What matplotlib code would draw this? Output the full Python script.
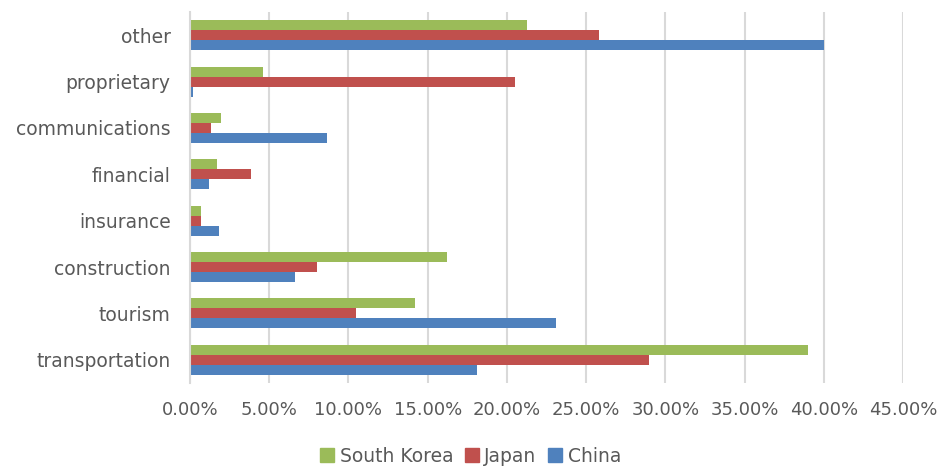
import numpy as np
import matplotlib.pyplot as plt
from matplotlib.ticker import FuncFormatter
from matplotlib.patches import Patch

# categories listed bottom to top
categories = ["transportation", "tourism", "construction", "insurance",
              "financial", "communications", "proprietary", "other"]
south_korea = [0.390, 0.142, 0.162, 0.0067, 0.0168, 0.0193, 0.0458, 0.213]
japan = [0.290, 0.105, 0.080, 0.0067, 0.0382, 0.013, 0.205, 0.258]
china = [0.181, 0.2307, 0.066, 0.018, 0.0117, 0.0864, 0.0016, 0.400]
xticks = np.arange(0, 0.451, 0.05)

green = "#9BBB59"
red = "#C0504D"
blue = "#4F81BD"

fig = plt.figure(figsize=(9.41, 4.68), dpi=100)
ax = fig.add_axes([190/941, 1-383/468, (903-190)/941, (383-12)/468])

y = np.arange(len(categories))
h = 0.215
ax.barh(y + h, south_korea, h, color=green, label="South Korea")
ax.barh(y, japan, h, color=red, label="Japan")
ax.barh(y - h, china, h, color=blue, label="China")

ax.set_xlim(0, 0.45)
ax.set_ylim(-0.5, len(categories) - 0.5)
ax.set_xticks(xticks)
ax.xaxis.set_major_formatter(FuncFormatter(lambda v, p: "%.2f%%" % (v * 100)))
ax.set_yticks(y)
ax.set_yticklabels(categories)

ax.grid(axis="x", color="#D9D9D9", linewidth=1.5)
ax.set_axisbelow(True)
for s in ["top", "right", "bottom"]:
    ax.spines[s].set_visible(False)
ax.spines["left"].set_color("#D9D9D9")
ax.spines["left"].set_linewidth(1.5)
ax.tick_params(axis="both", length=0, colors="#595959")
ax.tick_params(axis="x", labelsize=13, pad=13)
ax.tick_params(axis="y", labelsize=13.5, pad=14)

handles = [Patch(color=green, label="South Korea"),
           Patch(color=red, label="Japan"),
           Patch(color=blue, label="China")]
leg = fig.legend(handles=handles, loc="center", bbox_to_anchor=(0.5, 1-456/468),
                 ncol=3, frameon=False, fontsize=13.5, handlelength=0.75,
                 handleheight=0.75, handletextpad=0.3, columnspacing=0.6)
for t in leg.get_texts():
    t.set_color("#595959")

fig.savefig("out.png", dpi=100)
